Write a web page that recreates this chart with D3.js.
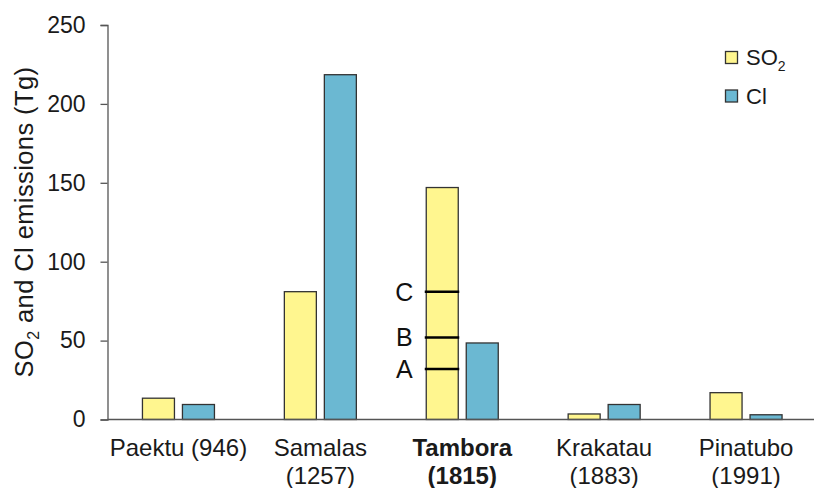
<!DOCTYPE html>
<html>
<head>
<meta charset="utf-8">
<script src="https://cdn.jsdelivr.net/npm/d3@7"></script>
<style>
  html, body { margin: 0; padding: 0; background: #fff; }
  svg { display: block; font-family: "Liberation Sans", Arial, sans-serif; }
</style>
</head>
<body>
<svg id="chart" width="814" height="488"></svg>
<script>
// Eruptions (two-line labels) and emissions in Tg
const volcanoes = ["Paektu", "Samalas", "Tambora", "Krakatau", "Pinatubo"];
const labelLine1 = ["Paektu (946)", "Samalas", "Tambora", "Krakatau", "Pinatubo"];
const labelLine2 = ["", "(1257)", "(1815)", "(1883)", "(1991)"];
const so2 = [13.5, 81, 147, 3.5, 17];
const cl = [9.5, 218.5, 48.5, 9.5, 3];
const yTicks = [0, 50, 100, 150, 200, 250];
// Tambora SO2 estimate markers
const markerNames = ["A", "B", "C"];
const markerValues = [32, 52, 81];
const highlight = "Tambora";

const svg = d3.select("#chart");
const plotLeft = 107.5, plotRight = 817, plotTop = 25, plotBottom = 419.5;

const x = d3.scaleBand().domain(volcanoes).range([plotLeft, plotRight]);
const y = d3.scaleLinear().domain([0, 250]).range([plotBottom, plotTop]);

const barW = 32, gap = 8;
const colorSO2 = "#FFF68F", colorCl = "#6BB8D2", edge = "#333";
const textColor = "#1a1a1a";

// y axis
const yAxis = d3.axisLeft(y).tickValues(yTicks).tickSize(7).tickPadding(15);
const gy = svg.append("g").attr("transform", `translate(${plotLeft},0)`).call(yAxis);
gy.select(".domain").attr("stroke", "#555").attr("stroke-width", 1.3);
gy.selectAll(".tick line").attr("stroke", "#555").attr("stroke-width", 1.3);
gy.selectAll(".tick text").attr("font-size", 23).attr("fill", textColor)
  .attr("font-family", "Liberation Sans, Arial, sans-serif");

// y axis title
svg.append("text")
  .attr("transform", `translate(33,222) rotate(-90)`)
  .attr("text-anchor", "middle")
  .attr("font-size", 25.5).attr("fill", textColor)
  .attr("letter-spacing", 0.4)
  .call(t => {
    t.append("tspan").text("SO");
    t.append("tspan").text("2").attr("font-size", 16).attr("dy", 6);
    t.append("tspan").text(" and Cl emissions (Tg)").attr("dy", -6);
  });

// bars
const g = svg.append("g");
volcanoes.forEach((v, i) => {
  const cx = x(v) + x.bandwidth() / 2;
  g.append("rect")
    .attr("x", cx - gap / 2 - barW).attr("width", barW)
    .attr("y", y(so2[i])).attr("height", y(0) - y(so2[i]))
    .attr("fill", colorSO2).attr("stroke", edge).attr("stroke-width", 1.3);
  g.append("rect")
    .attr("x", cx + gap / 2).attr("width", barW)
    .attr("y", y(cl[i])).attr("height", y(0) - y(cl[i]))
    .attr("fill", colorCl).attr("stroke", edge).attr("stroke-width", 1.3);
});

// A/B/C markers on the Tambora SO2 bar
const tcx = x(highlight) + x.bandwidth() / 2;
markerValues.forEach((val, k) => {
  svg.append("line")
    .attr("x1", tcx - gap / 2 - barW - 1.5).attr("x2", tcx - gap / 2 + 1)
    .attr("y1", y(val)).attr("y2", y(val))
    .attr("stroke", "#000").attr("stroke-width", 2.5);
  svg.append("text")
    .attr("x", tcx - gap / 2 - barW - 22).attr("y", y(val) + 9)
    .attr("text-anchor", "middle").attr("font-size", 25).attr("fill", "#111")
    .text(markerNames[k]);
});

// x axis baseline
svg.append("line")
  .attr("x1", plotLeft).attr("x2", 814)
  .attr("y1", plotBottom).attr("y2", plotBottom)
  .attr("stroke", "#555").attr("stroke-width", 1.3);

// category labels
volcanoes.forEach((v, i) => {
  const cx = x(v) + x.bandwidth() / 2;
  const t = svg.append("text")
    .attr("x", cx).attr("text-anchor", "middle")
    .attr("font-size", 24).attr("fill", textColor)
    .attr("font-weight", v === highlight ? "bold" : "normal");
  t.append("tspan").attr("x", cx).attr("y", 456).text(labelLine1[i]);
  if (labelLine2[i]) t.append("tspan").attr("x", cx).attr("y", 484).text(labelLine2[i]);
});

// legend
const legend = svg.append("g");
[["SO", "2", colorSO2, 51.5], ["Cl", "", colorCl, 90]].forEach(([name, sub, col, yy]) => {
  legend.append("rect").attr("x", 725.5).attr("y", yy).attr("width", 12).attr("height", 12)
    .attr("fill", col).attr("stroke", edge).attr("stroke-width", 1.3);
  const t = legend.append("text").attr("x", 746).attr("y", yy + 13.5)
    .attr("font-size", 22).attr("fill", textColor);
  t.append("tspan").text(name);
  if (sub) t.append("tspan").text(sub).attr("font-size", 14).attr("dy", 6);
});
</script>
</body>
</html>
